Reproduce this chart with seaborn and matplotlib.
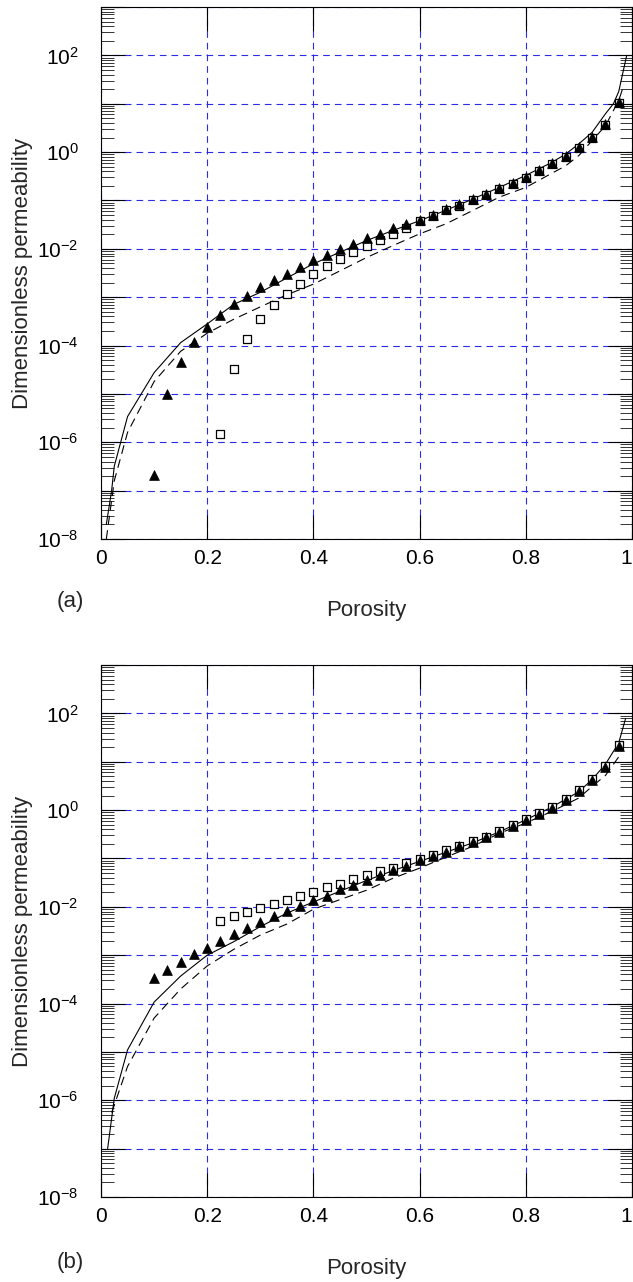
import numpy as np
import pandas as pd
import matplotlib
matplotlib.use("Agg")
import matplotlib.pyplot as plt
import matplotlib.ticker as mticker
import seaborn as sns

# ---------------- data ----------------
# marker porosities
tri_x = [0.1, 0.125, 0.15, 0.175, 0.2, 0.225, 0.25, 0.275, 0.3, 0.325, 0.35, 0.375,
         0.4, 0.425, 0.45, 0.475, 0.5, 0.525, 0.55, 0.575, 0.6, 0.625, 0.65, 0.675,
         0.7, 0.725, 0.75, 0.775, 0.8, 0.825, 0.85, 0.875, 0.9, 0.925, 0.95, 0.975]
sq_x = [0.225, 0.25, 0.275, 0.3, 0.325, 0.35, 0.375,
        0.4, 0.425, 0.45, 0.475, 0.5, 0.525, 0.55, 0.575, 0.6, 0.625, 0.65, 0.675,
        0.7, 0.725, 0.75, 0.775, 0.8, 0.825, 0.85, 0.875, 0.9, 0.925, 0.95, 0.975]

# panel (a)
a_tri_y = [2.1e-7, 1.0e-5, 4.6e-5, 1.2e-4, 2.4e-4, 4.3e-4, 7.4e-4, 1.07e-3, 1.66e-3, 2.3e-3,
           3.0e-3, 4.3e-3, 5.9e-3, 7.6e-3, 1.0e-2, 1.23e-2, 1.7e-2, 2.04e-2, 2.7e-2, 3.3e-2,
           4.0e-2, 5.0e-2, 6.6e-2, 8.5e-2, 0.105, 0.138, 0.178, 0.229, 0.30, 0.42,
           0.59, 0.85, 1.26, 2.04, 3.9, 10.7]
a_sq_y = [1.5e-6, 3.2e-5, 1.35e-4, 3.5e-4, 6.8e-4, 1.15e-3, 1.9e-3, 3.0e-3, 4.4e-3, 6.2e-3,
          8.5e-3, 1.12e-2, 1.5e-2, 2.04e-2, 2.75e-2, 3.7e-2, 4.7e-2, 6.2e-2, 7.8e-2, 0.10,
          0.132, 0.17, 0.22, 0.29, 0.40, 0.56, 0.81, 1.2, 1.95, 3.7, 10.2]
a_sol_x = [0.01, 0.02, 0.025, 0.05, 0.1, 0.15, 0.2, 0.25, 0.3, 0.35, 0.4, 0.45, 0.5, 0.55,
           0.6, 0.65, 0.7, 0.75, 0.8, 0.85, 0.875, 0.9, 0.925, 0.95, 0.965, 0.975, 0.99]
a_sol_y = [2.0e-8, 1.0e-7, 3.2e-7, 3.4e-6, 2.75e-5, 1.15e-4, 2.8e-4, 7.1e-4, 1.26e-3, 2.5e-3,
           4.9e-3, 8.5e-3, 1.48e-2, 2.4e-2, 3.8e-2, 6.3e-2, 0.107, 0.186, 0.33, 0.62,
           0.91, 1.48, 2.57, 6.2, 10.0, 17.8, 100.0]
a_das_x = [0.01, 0.02, 0.025, 0.05, 0.1, 0.15, 0.2, 0.25, 0.3, 0.35, 0.4, 0.45, 0.5, 0.55,
           0.6, 0.65, 0.7, 0.75, 0.8, 0.85, 0.875, 0.9, 0.925, 0.95, 0.975, 0.985]
a_das_y = [1.0e-8, 6.3e-8, 1.6e-7, 1.6e-6, 1.8e-5, 7.6e-5, 1.8e-4, 3.5e-4, 6.3e-4, 1.12e-3,
           1.86e-3, 3.5e-3, 6.6e-3, 1.17e-2, 2.04e-2, 3.3e-2, 6.2e-2, 0.117, 0.186, 0.37,
           0.52, 0.85, 1.74, 3.5, 11.7, 25.0]

# panel (b)
b_tri_y = [3.3e-4, 5.0e-4, 7.2e-4, 1.05e-3, 1.38e-3, 2.0e-3, 2.75e-3, 3.6e-3, 4.9e-3, 6.5e-3,
           8.3e-3, 1.05e-2, 1.38e-2, 1.7e-2, 2.3e-2, 2.8e-2, 3.6e-2, 4.5e-2, 5.8e-2, 7.1e-2,
           9.1e-2, 0.11, 0.135, 0.178, 0.224, 0.275, 0.355, 0.48, 0.63, 0.85,
           1.12, 1.62, 2.5, 4.1, 7.9, 21.4]
b_sq_y = [5.1e-3, 6.5e-3, 7.8e-3, 9.3e-3, 1.15e-2, 1.38e-2, 1.7e-2, 2.04e-2, 2.6e-2, 2.95e-2,
          3.7e-2, 4.5e-2, 5.5e-2, 6.5e-2, 7.9e-2, 9.8e-2, 0.117, 0.15, 0.18, 0.234,
          0.28, 0.37, 0.50, 0.66, 0.89, 1.17, 1.7, 2.6, 4.3, 8.3, 22.4]
b_sol_x = [0.0125, 0.025, 0.05, 0.1, 0.15, 0.2, 0.25, 0.3, 0.35, 0.4, 0.45, 0.5, 0.55, 0.6,
           0.65, 0.7, 0.75, 0.8, 0.85, 0.9, 0.925, 0.95, 0.975, 0.988]
b_sol_y = [1.0e-7, 1.1e-6, 1.1e-5, 1.07e-4, 3.7e-4, 1.0e-3, 1.9e-3, 3.9e-3, 7.4e-3, 1.26e-2,
           2.1e-2, 3.5e-2, 5.6e-2, 8.7e-2, 0.135, 0.21, 0.355, 0.63, 1.17, 2.4,
           4.3, 8.9, 24.5, 79.0]
b_das_x = [0.02, 0.025, 0.05, 0.1, 0.15, 0.2, 0.25, 0.3, 0.35, 0.4, 0.45, 0.5, 0.55, 0.6,
           0.65, 0.7, 0.75, 0.8, 0.85, 0.9, 0.925, 0.95, 0.975]
b_das_y = [5.6e-7, 7.9e-7, 5.0e-6, 5.0e-5, 2.0e-4, 6.0e-4, 1.32e-3, 2.6e-3, 4.4e-3, 8.9e-3,
           1.41e-2, 2.2e-2, 3.9e-2, 6.3e-2, 0.107, 0.178, 0.33, 0.54, 0.95, 1.78,
           3.1, 5.2, 12.6]

x_ticks = [0, 0.2, 0.4, 0.6, 0.8, 1.0]
x_tick_labels = ["0", "0.2", "0.4", "0.6", "0.8", "1"]
x_label = "Porosity"
y_label = "Dimensionless permeability"

# ---------------- style ----------------
sns.set_theme(style="ticks")
plt.rcParams['font.family'] = ['Liberation Sans', 'DejaVu Sans']
plt.rcParams['axes.unicode_minus'] = False
plt.rcParams['mathtext.fontset'] = 'custom'
plt.rcParams['mathtext.rm'] = 'Liberation Sans'
plt.rcParams['mathtext.it'] = 'Liberation Sans'
plt.rcParams['mathtext.bf'] = 'Liberation Sans'

fig = plt.figure(figsize=(6.33, 12.82), dpi=100)
W, H = 633.0, 1282.0
ax_a = fig.add_axes([101 / W, 1 - 539 / H, 531 / W, 532 / H])
ax_b = fig.add_axes([101 / W, 1 - 1197 / H, 531 / W, 532 / H])

grid_blue = '#2b2be8'


def ytick_fmt(v, pos):
    e = int(round(np.log10(v)))
    if e % 2 == 0:
        return r'$\mathregular{10^{%d}}$' % e
    return ''


def draw(ax, tri_y, sq_y, sol_x, sol_y, das_x, das_y, tag, tag_y):
    ax.set_yscale('log')
    sns.lineplot(x=sol_x, y=sol_y, ax=ax, color='black', linewidth=0.8,
                 sort=False, estimator=None, zorder=3)
    sns.lineplot(x=das_x, y=das_y, ax=ax, color='black', linewidth=0.8,
                 sort=False, estimator=None, zorder=3)
    ax.lines[-1].set_linestyle((0, (8, 5)))
    sns.scatterplot(x=sq_x, y=sq_y, ax=ax, marker='s', s=38, facecolor='white',
                    edgecolor='black', linewidth=0.9, zorder=4)
    sns.scatterplot(x=tri_x, y=tri_y, ax=ax, marker='^', s=50, color='black',
                    edgecolor='black', linewidth=0.5, zorder=5)

    ax.set_xlim(0, 1)
    ax.set_ylim(1e-8, 1e3)
    ax.set_xticks(x_ticks)
    ax.set_xticklabels(x_tick_labels)
    ax.get_xticklabels()[-1].set_horizontalalignment('right')
    ax.yaxis.set_major_locator(mticker.LogLocator(base=10, numticks=30))
    ax.yaxis.set_minor_locator(mticker.LogLocator(base=10, subs=np.arange(2, 10), numticks=30))
    ax.yaxis.set_major_formatter(mticker.FuncFormatter(ytick_fmt))
    ax.yaxis.set_minor_formatter(mticker.NullFormatter())

    ax.tick_params(axis='both', which='both', direction='in', top=True, right=True,
                   colors='black', labelsize=15)
    ax.tick_params(axis='y', which='major', length=17, width=0.8, pad=16)
    ax.tick_params(axis='y', which='minor', length=9, width=0.7, color='#333333')
    ax.tick_params(axis='x', which='major', length=17, width=0.8, pad=7)

    ax.set_axisbelow(True)
    ax.grid(True, which='major', axis='both', color=grid_blue, linestyle=(0, (6, 4.5)),
            linewidth=0.8)
    ax.grid(False, which='minor')
    for sp in ax.spines.values():
        sp.set_color('black')
        sp.set_linewidth(0.8)
        sp.set_visible(True)

    ax.set_xlabel(x_label, fontsize=16)
    ax.set_ylabel(y_label, fontsize=16)
    ax.xaxis.set_label_coords(0.5, -0.115)
    ax.yaxis.set_label_coords(-0.128, 0.5)
    ax.text(-0.058, tag_y, tag, transform=ax.transAxes, fontsize=16,
            ha='center', va='center')


draw(ax_a, a_tri_y, a_sq_y, a_sol_x, a_sol_y, a_das_x, a_das_y, '(a)', -0.118)
draw(ax_b, b_tri_y, b_sq_y, b_sol_x, b_sol_y, b_das_x, b_das_y, '(b)', -0.124)

fig.savefig('out.png', dpi=100)
